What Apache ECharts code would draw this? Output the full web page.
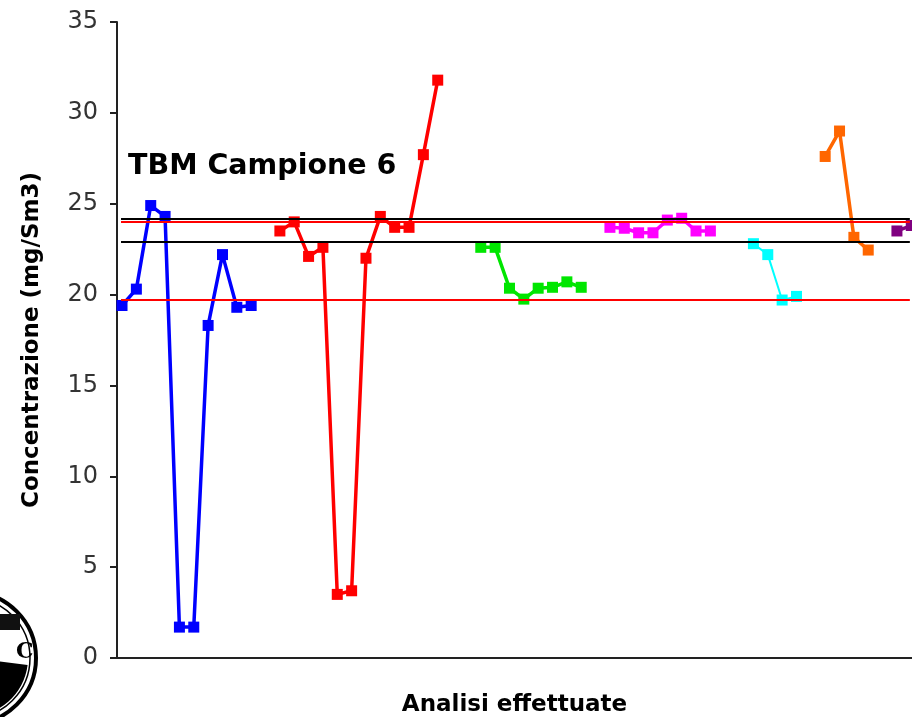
<!DOCTYPE html>
<html>
<head>
<meta charset="utf-8">
<script src="https://cdn.jsdelivr.net/npm/echarts@6/dist/echarts.min.js"></script>
<style>
  html, body { margin: 0; padding: 0; background: #fff; }
  #chart { width: 912px; height: 717px; }
</style>
</head>
<body>
<div id="chart"></div>
<script>
// valori (mg/Sm3), uno per analisi
const valoriBlu = [19.4, 20.3, 24.9, 24.3, 1.7, 1.7, 18.3, 22.2, 19.3, 19.4];
const valoriRosso = [23.5, 24.0, 22.1, 22.6, 3.5, 3.7, 22.0, 24.3, 23.7, 23.7, 27.7, 31.8];
const valoriVerde = [22.6, 22.6, 20.35, 19.75, 20.35, 20.4, 20.7, 20.4];
const valoriMagenta = [23.7, 23.65, 23.4, 23.4, 24.1, 24.2, 23.5, 23.5];
const valoriCiano = [22.8, 22.2, 19.7, 19.9];
const valoriArancio = [27.6, 29.0, 23.15, 22.45];
const valoriViola = [23.5, 23.8];

// indice della prima analisi di ogni gruppo
const inizi = [0, 11, 25, 34, 44, 49, 54];

// linee di riferimento
const limitiNeri = [24.2, 22.9];
const limitiRossi = [24.0, 19.7];

const ticksY = [0, 5, 10, 15, 20, 25, 30, 35];

const gruppi = [valoriBlu, valoriRosso, valoriVerde, valoriMagenta, valoriCiano, valoriArancio, valoriViola];
const colori = ['#0000ff', '#ff0000', '#00e600', '#ff00ff', '#00ffff', '#ff6600', '#800080'];

const font = 'DejaVu Sans';
var myChart = echarts.init(document.getElementById('chart'));

var series = gruppi.map(function (valori, g) {
    return {
        type: 'line',
        data: valori.map(function (v, i) { return [inizi[g] + i, v]; }),
        symbol: 'rect',
        symbolSize: 11,
        lineStyle: { color: colori[g], width: g === 4 ? 2 : 3.5 },
        itemStyle: { color: colori[g] },
        clip: false,
        z: 3
    };
});

// serie vuota che porta solo le linee orizzontali
function riga(v, colore) {
    return [
        { coord: [-0.07, v], lineStyle: { color: colore, width: 2, type: 'solid' } },
        { coord: [54.9, v] }
    ];
}
series.push({
    type: 'line',
    data: [],
    z: 1,
    markLine: {
        silent: true,
        symbol: ['none', 'none'],
        label: { show: false },
        data: limitiNeri.map(function (v) { return riga(v, '#000'); })
            .concat(limitiRossi.map(function (v) { return riga(v, '#ff0000'); }))
    }
});

var option = {
    animation: false,
    backgroundColor: '#fff',
    title: {
        text: 'TBM Campione 6',
        left: 123,
        top: 147,
        textStyle: { fontFamily: font, fontWeight: 'bold', fontSize: 28.5, color: '#000' }
    },
    grid: { left: 117, right: 0, top: 22, bottom: 59, outerBoundsMode: 'none', containLabel: false },
    xAxis: {
        type: 'value',
        min: -0.35,
        max: 55.05,
        name: 'Analisi effettuate',
        nameLocation: 'middle',
        nameGap: 36,
        nameTextStyle: { fontFamily: font, fontWeight: 'bold', fontSize: 23, color: '#000' },
        axisLine: { show: true, onZero: false, lineStyle: { color: '#222', width: 2 } },
        axisTick: { show: false },
        axisLabel: { show: false },
        splitLine: { show: false }
    },
    yAxis: {
        type: 'value',
        min: ticksY[0],
        max: ticksY[ticksY.length - 1],
        interval: 5,
        name: 'Concentrazione (mg/Sm3)',
        nameLocation: 'middle',
        nameGap: 73,
        nameTextStyle: { fontFamily: font, fontWeight: 'bold', fontSize: 23, color: '#000' },
        axisLine: { show: true, onZero: false, lineStyle: { color: '#222', width: 2 } },
        axisTick: { show: true, length: 7, lineStyle: { color: '#222', width: 2 } },
        axisLabel: { fontFamily: font, fontSize: 24, color: '#333', margin: 19 },
        splitLine: { show: false }
    },
    graphic: [
        // logo tagliato in basso a sinistra
        { type: 'circle', silent: true, shape: { cx: -30, cy: 658, r: 66 }, style: { fill: '#fff', stroke: '#000', lineWidth: 4 } },
        { type: 'circle', silent: true, shape: { cx: -30, cy: 658, r: 60 }, style: { fill: 'none', stroke: '#000', lineWidth: 1.5 } },
        { type: 'sector', silent: true, shape: { cx: -30, cy: 658, r: 58, startAngle: 0.12, endAngle: Math.PI / 2 }, style: { fill: '#000' } },
        { type: 'rect', silent: true, shape: { x: 0, y: 614, width: 20, height: 16 }, style: { fill: '#111' } },
        { type: 'text', silent: true, style: { x: 16, y: 641, text: 'C', fontFamily: 'DejaVu Serif', fontWeight: 'bold', fontSize: 22, fill: '#000' } }
    ],
    series: series
};
myChart.setOption(option);
</script>
</body>
</html>
